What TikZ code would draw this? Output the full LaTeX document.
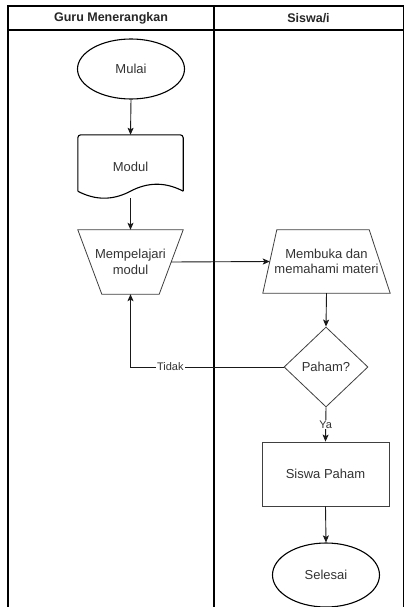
\documentclass[tikz,border=0pt]{standalone}
\usepackage{fontspec}
\setmainfont{Liberation Sans}
\usetikzlibrary{shapes.geometric,arrows.meta,calc}
\tikzset{
  lane/.style={line width=1.2pt, draw=black},
  shapeline/.style={line width=1.1pt, draw=black},
  thinline/.style={line width=0.8pt, draw=black!75},
  box/.style={draw=none, inner sep=0pt, align=center, text=black!80,
    font=\fontsize{13}{15.5}\selectfont},
  hdr/.style={inner sep=0pt, text=black!85, font=\fontsize{12.5}{15}\selectfont\bfseries},
  flow/.style={line width=0.9pt, draw=black!90, -{Stealth[length=7pt,width=6pt,inset=1.5pt]}},
  lbl/.style={fill=white, inner sep=1pt, text=black!80, font=\fontsize{11}{13}\selectfont},
}
\begin{document}
\begin{tikzpicture}[x=1pt,y=-1pt]
\path[use as bounding box, clip] (0,0) rectangle (404,607);
\fill[white] (0,0) rectangle (404,607);
% swimlane frame
\draw[lane] (8,6) rectangle (403.4,640);
\draw[lane] (8,30) -- (403.4,30);
\draw[lane] (214,6) -- (214,640);
\node[hdr] (h1) at (111,18) {Guru Menerangkan};
\node[hdr] (h2) at (308.5,18) {Siswa/i};
% nodes
\node[box, ellipse, draw, shapeline, minimum width=107pt, minimum height=60pt] (mulai) at (131,69) {Mulai};
\node[box, minimum width=105pt, minimum height=63pt] (modul) at (130.5,166.5) {Modul};
\draw[shapeline, rounded corners=3pt] ([yshift=7pt]modul.south west) -- (modul.north west) -- (modul.north east) -- ([yshift=7pt]modul.south east);
\draw[shapeline] ([yshift=7pt]modul.south east) .. controls +(-17.5,-9.3) and +(17.5,-9.3) .. ([yshift=7pt]modul.south) .. controls +(-17.5,9.3) and +(17.5,9.3) .. ([yshift=7pt]modul.south west);
\node[box, minimum width=105pt, minimum height=64pt] (mp) at (130.5,262) {Mempelajari\\modul};
\draw[thinline] (mp.north west) -- (mp.north east) -- ([xshift=-24pt]mp.south east) -- ([xshift=24pt]mp.south west) -- cycle;
\node[box, minimum width=127pt, minimum height=63pt] (mb) at (326.5,261.5) {Membuka dan\\memahami materi};
\draw[thinline] (mb.south west) -- (mb.south east) -- ([xshift=-21pt]mb.north east) -- ([xshift=14pt]mb.north west) -- cycle;
\node[box, diamond, draw, thinline, minimum width=84pt, minimum height=80pt] (ph) at (326,367) {Paham?};
\node[box, rectangle, draw, thinline, minimum width=127pt, minimum height=64pt] (sp) at (325.5,474) {Siswa Paham};
\node[box, ellipse, draw, shapeline, minimum width=107pt, minimum height=64pt] (sel) at (326,575) {Selesai};
% connectors
\draw[flow] (mulai.south) -- (modul.north);
\draw[flow] (modul.south) -- (mp.north);
\draw[flow] ([xshift=-12pt]mp.east) -- ([xshift=7pt]mb.west);
\draw[flow] (mb.south) -- (ph.north);
\draw[flow] (ph.west) -| node[lbl, pos=0.37] {Tidak} (mp.south);
\draw[flow] (ph.south) -- node[lbl, pos=0.5] {Ya} (sp.north);
\draw[flow] (sp.south) -- (sel.north);
\end{tikzpicture}
\end{document}
